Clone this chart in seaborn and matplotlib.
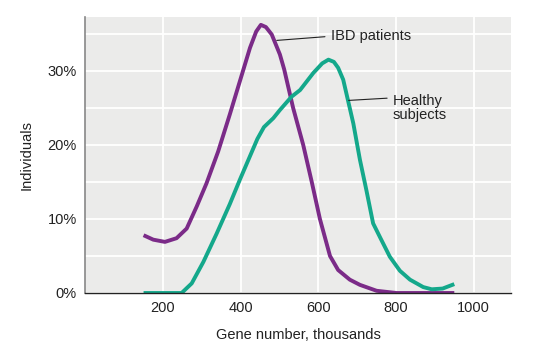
import numpy as np
import pandas as pd
import seaborn as sns
import matplotlib
matplotlib.use("Agg")
import matplotlib.pyplot as plt
from matplotlib.ticker import FuncFormatter, MultipleLocator

ibd_x = [150, 175, 205, 235, 261, 287, 312, 342, 372, 398, 424, 440, 452, 465, 480,
         501, 512, 535, 561, 583, 604, 630, 651, 681, 707, 750, 801, 870, 950]
ibd_y = [7.8, 7.2, 6.9, 7.4, 8.7, 11.7, 14.8, 19.1, 24.1, 28.6, 33.1, 35.3, 36.2, 35.9, 34.9,
         32.2, 30.2, 25.0, 20.0, 15.0, 10.0, 5.0, 3.1, 1.8, 1.1, 0.3, 0.0, 0.0, 0.0]

healthy_x = [150, 200, 248, 274, 304, 338, 372, 398, 425, 443, 460, 484, 501, 531, 553, 587,
             610, 626, 640, 651, 664, 690, 707, 724, 741, 760, 784, 810, 836, 870, 892,
             920, 950]
healthy_y = [0.0, 0.0, 0.0, 1.3, 4.2, 8.0, 12.0, 15.3, 18.6, 20.8, 22.4, 23.6, 24.7, 26.5, 27.4, 29.7,
             31.0, 31.5, 31.2, 30.4, 28.8, 22.9, 18.0, 13.8, 9.4, 7.4, 4.9, 3.0, 1.8, 0.8, 0.5,
             0.6, 1.2]

x_ticks = [200, 400, 600, 800, 1000]
y_ticks = [0, 10, 20, 30]

purple = "#7b2b88"
green = "#14a88b"

df = pd.concat([
    pd.DataFrame({"x": ibd_x, "y": ibd_y, "group": "IBD patients"}),
    pd.DataFrame({"x": healthy_x, "y": healthy_y, "group": "Healthy subjects"}),
])

sns.set_theme(style="darkgrid", rc={"axes.facecolor": "#ebebea", "grid.color": "white",
                                    "grid.linewidth": 1.3})
plt.rcParams["font.family"] = ["Liberation Sans", "DejaVu Sans"]

fig = plt.figure(figsize=(5.44, 3.47), dpi=100)
ax = fig.add_axes([85.3 / 544, 1 - 293 / 347, (511 - 85.3) / 544, (293 - 16.7) / 347])

sns.lineplot(data=df, x="x", y="y", hue="group", palette={"IBD patients": purple,
             "Healthy subjects": green}, linewidth=2.8, legend=False, ax=ax,
             sort=False, estimator=None)
for l in ax.lines:
    l.set_solid_capstyle("butt")
    l.set_solid_joinstyle("round")

ax.set_xlim(0, 1096)
ax.set_ylim(0, 37.3)
ax.set_xticks(x_ticks)
ax.set_yticks(y_ticks)
ax.yaxis.set_minor_locator(MultipleLocator(5))
ax.yaxis.set_major_formatter(FuncFormatter(lambda v, p: f"{int(v)}%"))
ax.grid(which="minor", axis="y", color="white", linewidth=1.3)
ax.grid(which="major", color="white", linewidth=1.3)
ax.tick_params(axis="both", labelsize=10.5, colors="#222222", length=0, pad=6)
ax.tick_params(axis="y", which="minor", length=0)

for s in ["top", "right"]:
    ax.spines[s].set_visible(False)
ax.spines["left"].set_visible(True)
ax.spines["left"].set_color("#888888")
ax.spines["left"].set_linewidth(1.2)
ax.spines["bottom"].set_visible(True)
ax.spines["bottom"].set_color("#222222")
ax.spines["bottom"].set_linewidth(1.0)

ax.set_xlabel("Gene number, thousands", fontsize=10.5, color="#222222", labelpad=9)
ax.set_ylabel("Individuals", fontsize=10.5, color="#222222", labelpad=10)

ax.plot([493, 617], [34.1, 34.6], color="#222222", linewidth=0.8)
ax.text(632, 34.7, "IBD patients", fontsize=10.5, va="center", ha="left", color="#222222")
ax.plot([678, 777], [26.0, 26.3], color="#222222", linewidth=0.8)
ax.text(792, 25.0, "Healthy\nsubjects", fontsize=10.5, va="center", ha="left",
        color="#222222", linespacing=1.0)

fig.savefig("out.png", dpi=100)
